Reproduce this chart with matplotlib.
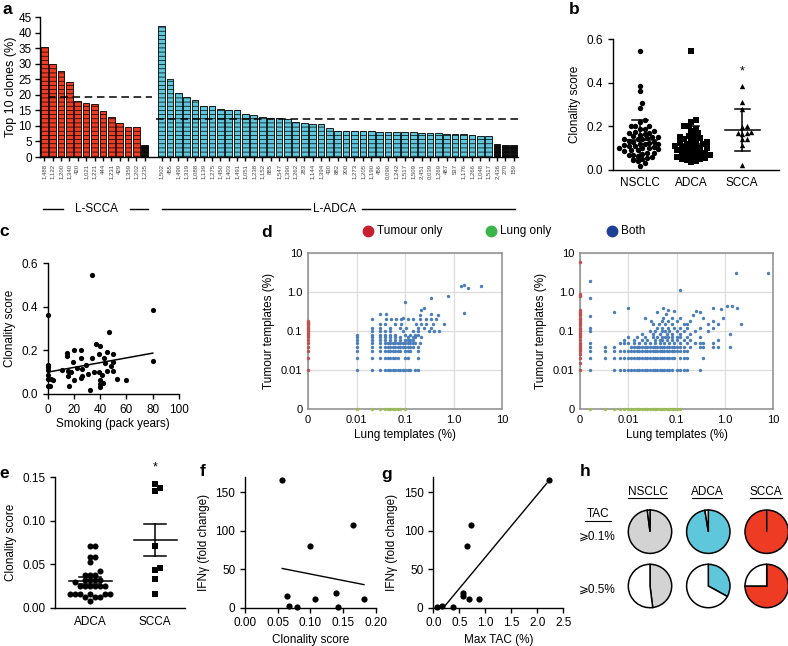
import numpy as np
import matplotlib
matplotlib.use("Agg")
import matplotlib.pyplot as plt
from matplotlib.lines import Line2D

plt.rcParams['font.family'] = ['Liberation Sans', 'DejaVu Sans']
plt.rcParams['hatch.linewidth'] = 0.5
plt.rcParams['axes.linewidth'] = 1.0

W, H = 788, 646

# ---------------- data ----------------
# a: top 10 clones (%) per patient
scca_ids = ['1,488', '1,122', '1,200', '1,340', '420', '1,021', '1,221', '444', '1,231',
            '429', '1,359', '1,202', '1,235']
scca_top10 = [35.5, 29.8, 27.8, 24.0, 18.0, 17.5, 17.0, 14.8, 12.8, 11.0, 9.5, 9.5, 3.8]
adca_ids = ['1,502', '455', '1,490', '1,319', '1,088', '1,139', '1,275', '1,450', '1,403',
            '1,491', '1,051', '1,238', '1,152', '885', '1,547', '1,390', '1,262', '283',
            '1,144', '1,394', '430', '882', '200', '1,273', '1,205', '1,190', '456', '0,090',
            '1,242', '1,517', '1,509', '2,451', '0,039', '1,269', '487', '537', '1,176',
            '1,266', '1,048', '1,517', '2,436', '270', '159']
adca_top10 = [42.0, 25.0, 20.5, 19.3, 18.2, 16.3, 16.3, 15.4, 15.1, 15.0,
              13.8, 13.4, 13.0, 12.6, 12.4, 12.1, 11.1, 10.9, 10.6, 10.6,
              9.2, 8.5, 8.5, 8.4, 8.2, 8.2, 8.1, 7.9, 7.9, 7.9,
              7.9, 7.7, 7.7, 7.6, 7.5, 7.5, 7.3, 7.1, 6.9, 6.8,
              4.2, 3.9, 3.7]
scca_mean_top10 = 19.3
adca_mean_top10 = 12.2

# b: clonality score
nsclc_b = [0.545, 0.385, 0.36, 0.305, 0.285, 0.23, 0.22, 0.2, 0.2, 0.2, 0.19, 0.19, 0.18, 0.175,
           0.17, 0.17, 0.165, 0.16, 0.155, 0.15, 0.15, 0.145, 0.14, 0.14, 0.14, 0.135, 0.13,
           0.13, 0.125, 0.12, 0.12, 0.12, 0.115, 0.11, 0.11, 0.105, 0.1, 0.1, 0.1, 0.095, 0.09,
           0.09, 0.085, 0.08, 0.08, 0.075, 0.07, 0.07, 0.065, 0.06, 0.055, 0.05, 0.045, 0.04,
           0.03, 0.02]
adca_b = [0.545, 0.23, 0.22, 0.2, 0.2, 0.19, 0.18, 0.17, 0.16, 0.155, 0.15, 0.145, 0.14, 0.14,
          0.135, 0.13, 0.125, 0.12, 0.12, 0.115, 0.11, 0.11, 0.105, 0.1, 0.1, 0.095, 0.09, 0.09,
          0.085, 0.08, 0.08, 0.075, 0.07, 0.07, 0.065, 0.06, 0.06, 0.055, 0.05, 0.05, 0.045,
          0.04, 0.035]
scca_b = [0.385, 0.31, 0.28, 0.2, 0.195, 0.175, 0.17, 0.17, 0.165, 0.14, 0.14, 0.115, 0.025]
b_groups = ['NSCLC', 'ADCA', 'SCCA']
b_mean = [0.137, 0.12, 0.183]
b_sd_lo = [0.05, 0.04, 0.087]
b_sd_hi = [0.23, 0.2, 0.28]

# c: smoking vs clonality
smoking = [34, 80, 0, 47, 37, 40, 20, 25, 15, 15, 39, 45, 50, 43, 34, 25, 0, 0, 0, 0,
           0, 0, 80, 19.5, 29, 22, 26, 11, 15.5, 18, 31, 35, 39, 41, 45, 50, 44, 48, 50, 26,
           25, 20, 15.5, 16, 53, 60, 40, 40, 42, 40, 32, 4, 2.5, 1.5]
clon_c = [0.547, 0.383, 0.36, 0.284, 0.23, 0.22, 0.203, 0.2, 0.188, 0.176, 0.185, 0.194, 0.182,
          0.165, 0.163, 0.163, 0.134, 0.124, 0.11, 0.085, 0.069, 0.038, 0.153, 0.145, 0.131,
          0.119, 0.115, 0.108, 0.105, 0.1, 0.09, 0.1, 0.102, 0.089, 0.107, 0.107, 0.142, 0.13,
          0.145, 0.084, 0.073, 0.063, 0.084, 0.035, 0.07, 0.066, 0.063, 0.046, 0.05, 0.032,
          0.02, 0.063, 0.069, 0.038]
fit_c = (0.100, 0.00109)  # intercept, slope

# d: tumour vs lung templates (%), 0 = not detected
dense = [0.01, 0.0115, 0.013, 0.015, 0.017, 0.019, 0.022, 0.025, 0.028, 0.032, 0.036,
         0.04, 0.045, 0.05, 0.056, 0.063, 0.071, 0.08]
tum_only_L = [0.01, 0.02, 0.03, 0.04, 0.05, 0.06, 0.07, 0.08, 0.09, 0.1, 0.11, 0.12, 0.13,
              0.14, 0.15, 0.16, 0.17, 0.18]
lung_only_L = [0.01, 0.021, 0.03, 0.039, 0.044, 0.05, 0.056, 0.063, 0.071, 0.08, 0.1]
both_L_rows = {
    0.01: [0.01, 0.021, 0.03, 0.039, 0.044, 0.05, 0.056, 0.063, 0.071, 0.08, 0.09, 0.1, 0.114,
           0.128, 0.164, 0.184],
    0.02: [0.01, 0.021, 0.03, 0.039, 0.044, 0.05, 0.056, 0.063, 0.071, 0.1, 0.114, 0.184],
    0.03: [0.01, 0.021, 0.03, 0.039, 0.044, 0.05, 0.056, 0.063, 0.071, 0.08, 0.1, 0.114, 0.128,
           0.184],
    0.04: [0.01, 0.021, 0.03, 0.039, 0.044, 0.05, 0.056, 0.063, 0.071, 0.08, 0.09, 0.1, 0.114,
           0.128, 0.145, 0.184],
    0.05: [0.01, 0.021, 0.03, 0.039, 0.044, 0.05, 0.056, 0.063, 0.071, 0.08, 0.09, 0.1, 0.114,
           0.128, 0.145, 0.164, 0.206],
    0.06: [0.01, 0.021, 0.03, 0.039, 0.05, 0.063, 0.08, 0.1, 0.114, 0.128, 0.145],
    0.07: [0.01, 0.021, 0.03, 0.039, 0.05, 0.063, 0.08, 0.114, 0.145, 0.164, 0.216],
    0.08: [0.01, 0.021, 0.03, 0.039, 0.05, 0.063, 0.1, 0.128, 0.164, 0.184],
    0.1: [0.021, 0.03, 0.039, 0.05, 0.09, 0.145, 0.184, 0.32, 0.4, 0.51],
    0.12: [0.021, 0.03, 0.05, 0.08, 0.106, 0.184, 0.25, 0.345],
    0.15: [0.03, 0.039, 0.063, 0.083, 0.17, 0.216, 0.27, 0.37, 0.65],
    0.2: [0.021, 0.041, 0.052, 0.065, 0.083, 0.114, 0.145, 0.2, 0.27, 0.345, 0.44],
}
both_L_extra_x = [0.03, 0.041, 0.09, 0.2, 0.216, 0.25, 0.345, 0.48, 0.101, 0.345, 0.76,
                  1.44, 1.61, 1.97, 3.7, 1.61]
both_L_extra_y = [0.27, 0.28, 0.21, 0.25, 0.34, 0.4, 0.28, 0.25, 0.57, 0.7, 0.77,
                  1.39, 1.55, 1.26, 1.4, 0.29]

tum_only_R = [0.01, 0.015, 0.02, 0.025, 0.03, 0.035, 0.04, 0.045, 0.05, 0.06, 0.07, 0.08,
              0.09, 0.1, 0.11, 0.12, 0.14, 0.16, 0.18, 0.2, 0.22, 0.25, 0.28, 0.3, 0.35, 0.8,
              0.9, 6.0]
lung_only_R = [0.0016, 0.0033, 0.005, 0.0066, 0.0083] + dense + [0.09, 0.1, 0.12]
both_R_rows = {
    0.01: [0.0016, 0.005, 0.0066, 0.0083] + dense + [0.1, 0.12, 0.14, 0.164, 0.3],
    0.02: [0.0016, 0.0033, 0.005, 0.0066, 0.0083] + dense + [0.09, 0.12, 0.14, 0.164, 0.36],
    0.03: [0.0016, 0.0033, 0.005, 0.0066, 0.0083] + dense + [0.09, 0.1, 0.12, 0.14, 0.164],
    0.04: [0.0016, 0.0033, 0.005] + dense[1:] + [0.09, 0.1, 0.12, 0.14, 0.19, 0.3, 0.36,
                                                0.58, 0.74, 1.29],
    0.05: [0.0016, 0.0066, 0.0083, 0.01, 0.013, 0.017, 0.022, 0.028, 0.036, 0.045, 0.056,
           0.071, 0.09, 0.12, 0.164, 0.245, 0.3, 0.36, 0.58],
    0.06: [0.0083, 0.013, 0.019, 0.025, 0.036, 0.045, 0.05, 0.063, 0.08, 0.1, 0.14, 0.19, 0.74],
    0.07: [0.01, 0.015, 0.022, 0.032, 0.04, 0.05, 0.058, 0.068, 0.08, 0.1, 0.12, 0.164, 0.3],
    0.085: [0.019, 0.032, 0.045, 0.063, 0.08, 0.12, 0.19, 1.29],
    0.1: [0.0016, 0.028, 0.036, 0.05, 0.058, 0.071, 0.1, 0.14, 0.245, 0.46],
    0.12: [0.0016, 0.04, 0.05, 0.068, 0.09, 0.12, 0.164, 0.3, 0.58],
    0.15: [0.032, 0.043, 0.058, 0.08, 0.14, 0.164, 0.46, 0.74, 2.15],
    0.185: [0.03, 0.05, 0.068, 0.1, 0.19, 0.58],
    0.22: [0.022, 0.053, 0.08, 0.12, 0.36, 0.94],
}
both_R_extra_x = [0.0016, 0.0016, 0.0016, 0.005, 0.0097, 0.12, 1.7, 7.8, 1.1, 1.4, 1.78,
                  0.58, 0.85, 0.3, 0.22, 0.09, 0.068, 0.053, 0.06, 0.04, 0.25]
both_R_extra_y = [1.86, 0.69, 0.24, 0.3, 0.4, 1.15, 3.0, 3.1, 0.45, 0.43, 0.4,
                  0.38, 0.37, 0.3, 0.25, 0.33, 0.35, 0.4, 0.28, 0.3, 0.33]
d_ticks = [0, 0.01, 0.1, 1.0, 10]
d_ticklabels = ['0', '0.01', '0.1', '1.0', '10']

# e: clonality score
e_groups = ['ADCA', 'SCCA']
adca_e = [0.0706, 0.0706, 0.058, 0.058, 0.052, 0.042, 0.038, 0.038, 0.038, 0.032, 0.032,
          0.032, 0.032, 0.029, 0.025, 0.025, 0.025, 0.025, 0.025, 0.025, 0.016, 0.016, 0.016,
          0.016, 0.016, 0.016, 0.012, 0.012, 0.012, 0.008]
scca_e = [0.1415, 0.137, 0.134, 0.071, 0.045, 0.043, 0.033, 0.016]
e_mean = [0.031, 0.078]
e_sem_lo = [0.027, 0.059]
e_sem_hi = [0.035, 0.096]

# f, g: IFNy fold change
clon_f = [0.057, 0.165, 0.1, 0.064, 0.14, 0.107, 0.182, 0.068, 0.079, 0.143]
ifng_f = [166, 108, 80, 15.5, 19.4, 10.8, 10.8, 2, 1.3, 1.3]
fit_f = (60.6, -168.0)
tac_g = [2.23, 0.72, 0.64, 0.58, 0.58, 0.69, 0.88, 0.07, 0.17, 0.37]
ifng_g = [166, 108, 80, 19.4, 15, 10.8, 10.8, 1.3, 2.6, 1.3]
fit_g = (-15.8, 81.4)

# h: fraction of patients above TAC threshold
h_groups = ['NSCLC', 'ADCA', 'SCCA']
frac_01 = [0.98, 0.975, 1.0]
frac_05 = [0.48, 0.33, 0.75]

# ---------------- figure ----------------
fig = plt.figure(figsize=(W / 100, H / 100), dpi=100)

RED = '#EE3B24'
CYAN = '#5EC7DC'
GREY = '#D3D3D3'


def px_axes(l, t, r, b):
    return fig.add_axes([l / W, 1 - b / H, (r - l) / W, (b - t) / H])


def fp(x, y):
    return x / W, 1 - y / H


def fig_line(x0, x1, y, lw=1.0):
    fig.add_artist(Line2D([x0 / W, x1 / W], [1 - y / H] * 2, color='k', lw=lw))


def letter(x, y, s):
    fig.text(*fp(x, y), s, fontsize=12.5, fontweight='bold', ha='center', va='center')


def simple(ax, fs=8.5):
    ax.spines['top'].set_visible(False)
    ax.spines['right'].set_visible(False)
    ax.tick_params(labelsize=fs, length=3.5, width=1)


def swarm(ax, xc, ys, d_px):
    tr = ax.transData
    x0 = tr.transform((xc, 0))[0]
    sx = tr.transform((xc + 1, 0))[0] - x0
    placed = []
    out = np.zeros(len(ys))
    for i in np.argsort(ys):
        py = tr.transform((xc, ys[i]))[1]
        best = 0.0
        for k in range(60):
            cands = [0.0] if k == 0 else [k * d_px * 0.5, -k * d_px * 0.5]
            ok = None
            for c in cands:
                if all((c - qx) ** 2 + (py - qy) ** 2 >= d_px ** 2 for qx, qy in placed):
                    ok = c
                    break
            if ok is not None:
                best = ok
                break
        placed.append((best, py))
        out[i] = xc + best / sx
    return out


# ---- a ----
ax = px_axes(40, 17, 518, 157)
pos_s = np.arange(len(scca_top10))
pos_a = np.arange(len(adca_top10)) + len(scca_top10) + 1
col_s = [RED] * (len(scca_top10) - 1) + ['#111111']
col_a = [CYAN] * (len(adca_top10) - 3) + ['#111111'] * 3
ax.bar(pos_s, scca_top10, width=0.8, color=col_s, edgecolor='k', lw=0.6, hatch='----')
ax.bar(pos_a, adca_top10, width=0.8, color=col_a, edgecolor='k', lw=0.6, hatch='----')
ax.plot([0.5, 12.9], [scca_mean_top10] * 2, 'k--', lw=1.1, dashes=(5, 3))
ax.plot([13.3, 56.5], [adca_mean_top10] * 2, 'k--', lw=1.1, dashes=(5, 3))
ax.set_xlim(-0.5, pos_a[-1] + 0.5)
ax.set_ylim(0, 45)
ax.set_yticks(range(0, 46, 5))
ax.set_xticks(np.concatenate([pos_s, pos_a]))
ax.set_xticklabels(scca_ids + adca_ids, rotation=90, fontsize=4.3, color='#444')
simple(ax, 8.5)
ax.tick_params(axis='y', pad=2.5)
ax.tick_params(axis='x', labelsize=4.3, length=3, pad=2)
ax.set_ylabel('Top 10 clones (%)', fontsize=9)
ax.yaxis.set_label_coords((17 - 40) / 478, 0.5)
fig.text(*fp(97, 209), 'L-SCCA', fontsize=8.5, ha='center', va='center')
fig_line(43, 63, 209)
fig_line(130, 148, 209)
fig.text(*fp(335, 209), 'L-ADCA', fontsize=8.5, ha='center', va='center')
fig_line(162, 310, 209)
fig_line(362, 515, 209)
letter(7, 9, 'a')

# ---- b ----
ax = px_axes(613, 39, 779, 170)
ax.set_xlim(-0.53, 2.72)
ax.set_ylim(0, 0.6)
markers = ['o', 's', '^']
for i, vals in enumerate([nsclc_b, adca_b, scca_b]):
    xs = swarm(ax, i, vals, 4.6)
    ax.scatter(xs, vals, s=15, marker=markers[i], color='k', lw=0, clip_on=False, zorder=3)
    ax.plot([i - 0.34, i + 0.34], [b_mean[i]] * 2, 'k-', lw=1.1)
    ax.plot([i, i], [b_sd_lo[i], b_sd_hi[i]], 'k-', lw=1.1)
    for v in (b_sd_lo[i], b_sd_hi[i]):
        ax.plot([i - 0.15, i + 0.15], [v, v], 'k-', lw=1.1)
ax.text(2, 0.45, '*', ha='center', va='center', fontsize=9)
ax.set_xticks([0, 1, 2])
ax.set_xticklabels(b_groups)
ax.set_yticks([0, 0.2, 0.4, 0.6])
ax.set_yticklabels(['0.0', '0.2', '0.4', '0.6'])
simple(ax)
ax.tick_params(axis='x', length=0, pad=5)
ax.set_ylabel('Clonality score', fontsize=8.5)
letter(574, 10, 'b')

# ---- c ----
ax = px_axes(47.7, 263, 179, 394)
ax.scatter(smoking, clon_c, s=14, color='k', lw=0, clip_on=False, zorder=3)
xl = np.array([min(smoking), max(smoking)])
ax.plot(xl, fit_c[0] + fit_c[1] * xl, 'k-', lw=1.1)
ax.set_xlim(0, 100)
ax.set_ylim(0, 0.6)
ax.set_xticks(range(0, 101, 20))
ax.set_yticks([0, 0.2, 0.4, 0.6])
ax.set_yticklabels(['0.0', '0.2', '0.4', '0.6'])
simple(ax)
ax.set_ylabel('Clonality score', fontsize=8.5)
ax.set_xlabel('Smoking (pack years)', fontsize=8.5, labelpad=2)
letter(4, 231, 'c')


# ---- d ----
def lg(v):
    v = np.asarray(v, dtype=float)
    return np.where(v > 0, np.log10(np.maximum(v, 1e-3)), -3.0)


def d_panel(box, rows, ex_x, ex_y, tum, lung):
    ax = px_axes(*box)
    bx, by = [], []
    for yv, xs in rows.items():
        bx += xs
        by += [yv] * len(xs)
    bx += ex_x
    by += ex_y
    ax.scatter(lg(bx), lg(by), s=6, color='#4A7EBB', lw=0, zorder=3)
    ax.scatter(lg([0] * len(tum)), lg(tum), s=6, color='#C0504D', lw=0, zorder=4, clip_on=False)
    ax.scatter(lg(lung), lg([0] * len(lung)), s=6, color='#9BBB59', lw=0, zorder=4, clip_on=False)
    ax.set_xlim(-3, 1)
    ax.set_ylim(-3, 1)
    ax.set_xticks(lg(d_ticks))
    ax.set_xticklabels(d_ticklabels)
    ax.set_yticks(lg(d_ticks))
    ax.set_yticklabels(d_ticklabels)
    ax.grid(True, color='#DDDDDD', lw=0.9)
    ax.set_axisbelow(True)
    for s in ax.spines.values():
        s.set_color('#8C8C8C')
        s.set_linewidth(1.1)
    ax.tick_params(length=0, labelsize=8, pad=4)
    ax.set_ylabel('Tumour templates (%)', fontsize=8.5)
    ax.set_xlabel('Lung templates (%)', fontsize=8.5, labelpad=3)
    return ax


d_panel((308, 253, 502, 409), both_L_rows, both_L_extra_x, both_L_extra_y, tum_only_L, lung_only_L)
d_panel((580, 253, 773, 409), both_R_rows, both_R_extra_x, both_R_extra_y, tum_only_R, lung_only_R)
for lx, lab, c in [(368, 'Tumour only', '#C8202F'), (491, 'Lung only', '#3AB54A'),
                   (612, 'Both', '#1D3F95')]:
    fig.add_artist(Line2D([lx / W], [1 - 231 / H], marker='o', ms=7.5, color=c, lw=0))
    fig.text(*fp(lx + 9, 231), lab, fontsize=8.5, va='center', ha='left')
letter(267, 233, 'd')

# ---- e ----
ax = px_axes(55, 477, 185, 607.7)
ax.set_xlim(-0.54, 1.46)
ax.set_ylim(0, 0.15)
for i, vals in enumerate([adca_e, scca_e]):
    xs = swarm(ax, i, vals, 5.0)
    ax.scatter(xs, vals, s=19, marker=['o', 's'][i], color='k', lw=0, clip_on=False, zorder=3)
    ax.plot([i - 0.33, i + 0.33], [e_mean[i]] * 2, 'k-', lw=1.1)
    ax.plot([i, i], [e_sem_lo[i], e_sem_hi[i]], 'k-', lw=1.1)
    for v in (e_sem_lo[i], e_sem_hi[i]):
        ax.plot([i - 0.17, i + 0.17], [v, v], 'k-', lw=1.1)
ax.text(1, 0.161, '*', ha='center', va='center', fontsize=9, clip_on=False)
ax.set_xticks([0, 1])
ax.set_xticklabels(e_groups)
ax.set_yticks([0, 0.05, 0.10, 0.15])
ax.set_yticklabels(['0.00', '0.05', '0.10', '0.15'])
simple(ax)
ax.tick_params(axis='x', length=0, pad=6)
ax.set_ylabel('Clonality score', fontsize=8.5)
letter(4, 473, 'e')

# ---- f ----
ax = px_axes(245, 477, 375.7, 607.7)
ax.scatter(clon_f, ifng_f, s=20, color='k', lw=0, clip_on=False, zorder=3)
xl = np.array([min(clon_f), max(clon_f)])
ax.plot(xl, fit_f[0] + fit_f[1] * xl, 'k-', lw=1.0)
ax.set_xlim(0, 0.2)
ax.set_ylim(0, 170)
ax.set_xticks([0, 0.05, 0.10, 0.15, 0.20])
ax.set_xticklabels(['0.00', '0.05', '0.10', '0.15', '0.20'])
ax.set_yticks([0, 50, 100, 150])
simple(ax)
ax.set_ylabel('IFNγ (fold change)', fontsize=8.5)
ax.set_xlabel('Clonality score', fontsize=8.5, labelpad=3)
letter(203, 472, 'f')

# ---- g ----
ax = px_axes(433.3, 477, 563.3, 607.7)
ax.scatter(tac_g, ifng_g, s=20, color='k', lw=0, clip_on=False, zorder=3)
xl = np.array([min(tac_g), max(tac_g) - 0.05])
ax.plot(xl, fit_g[0] + fit_g[1] * xl, 'k-', lw=1.0)
ax.set_xlim(0, 2.5)
ax.set_ylim(0, 170)
ax.set_xticks([0, 0.5, 1.0, 1.5, 2.0, 2.5])
ax.set_yticks([0, 50, 100, 150])
simple(ax)
ax.set_ylabel('IFNγ (fold change)', fontsize=8.5)
ax.set_xlabel('Max TAC (%)', fontsize=8.5, labelpad=3)
letter(387, 474, 'g')

# ---- h ----
pie_cols = [GREY, CYAN, RED]
cxs = [650, 708.3, 766.7]
r = 21.7
for j, (fr_row, cy) in enumerate([(frac_01, 531.7), (frac_05, 586)]):
    for i in range(3):
        pax = px_axes(cxs[i] - 1.25 * r, cy - 1.25 * r, cxs[i] + 1.25 * r, cy + 1.25 * r)
        pax.pie([fr_row[i], 1 - fr_row[i]], colors=[pie_cols[i], 'white'], startangle=90,
                counterclock=False, wedgeprops=dict(edgecolor='k', linewidth=1.1))
        pax.set_aspect('equal')
for i, g in enumerate(h_groups):
    fig.text(*fp([647.5, 707, 766][i], 492), g, fontsize=8.5, ha='center', va='center')
fig_line(628, 667, 498, 0.8)
fig_line(692, 722, 498, 0.8)
fig_line(750, 782, 498, 0.8)
fig.text(*fp(598, 514), 'TAC', fontsize=8.5, ha='center', va='center')
fig_line(585, 611, 520.5, 0.8)
fig.text(*fp(597.5, 537), '⩾0.1%', fontsize=8.5, ha='center', va='center',
         family=['Liberation Sans', 'DejaVu Sans'])
fig.text(*fp(597.5, 590), '⩾0.5%', fontsize=8.5, ha='center', va='center',
         family=['Liberation Sans', 'DejaVu Sans'])
letter(585, 471, 'h')

fig.savefig('out.png', dpi=100)
